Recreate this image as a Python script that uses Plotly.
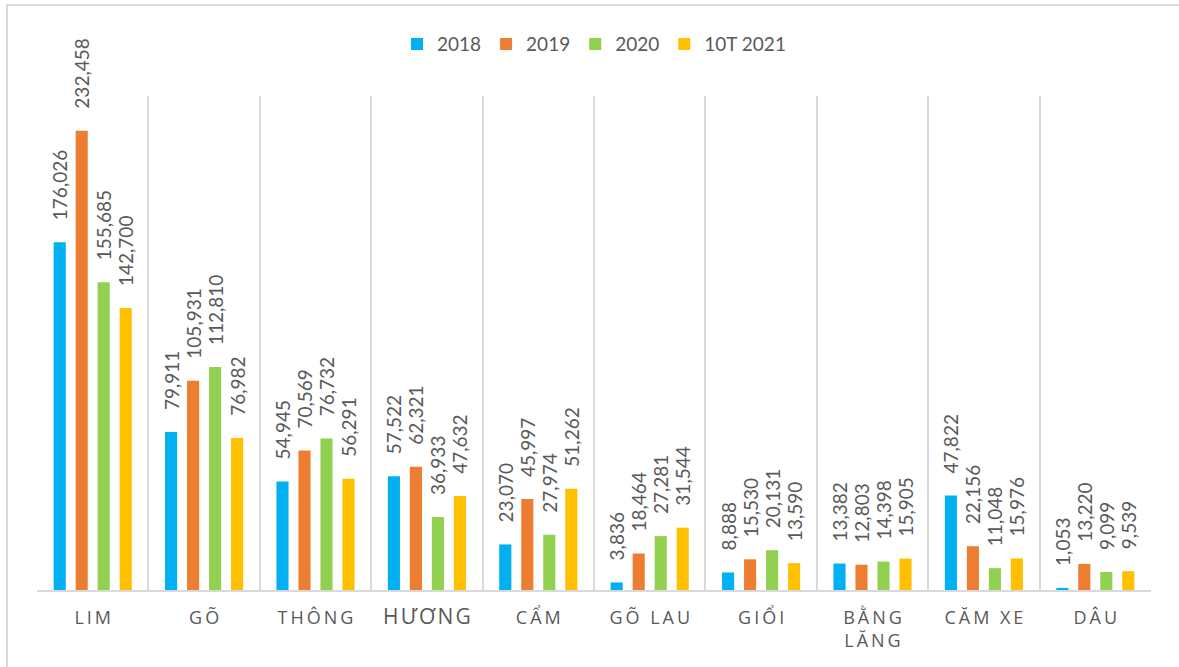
import plotly.graph_objects as go

# loài gỗ và số liệu theo năm (m3)
categories = ['LIM', 'GÕ', 'THÔNG', 'HƯƠNG', 'CẨM', 'GÕ LAU', 'GIỔI', 'BẰNG LĂNG', 'CĂM XE', 'DÂU']
series_names = ['2018', '2019', '2020', '10T 2021']

v2018 = [176026, 79911, 54945, 57522, 23070, 3836, 8888, 13382, 47822, 1053]
v2019 = [232458, 105931, 70569, 62321, 45997, 18464, 15530, 12803, 22156, 13220]
v2020 = [155685, 112810, 76732, 36933, 27974, 27281, 20131, 14398, 11048, 9099]
v2021 = [142700, 76982, 56291, 47632, 51262, 31544, 13590, 15905, 15976, 9539]

colors = ['#00B0F0', '#ED7D31', '#92D050', '#FFC000']


def spaced(name):
    # giãn chữ kiểu Excel
    words = name.split(' ')
    out = []
    for w in words:
        if w == 'BẰNG':
            out.append('\u2009'.join(w) + '<br>')
        else:
            out.append('\u2009'.join(w))
    return ('\u2009 \u2009'.join(out)).replace('<br>\u2009 \u2009', '<br>')


tick_text = []
for c in categories:
    if c == 'HƯƠNG':
        tick_text.append('<span style="font-size:21px">' + '\u200a'.join(c) + '</span>')
    else:
        tick_text.append(spaced(c))

fig = go.Figure()
for name, vals, col in zip(series_names, [v2018, v2019, v2020, v2021], colors):
    fig.add_trace(go.Bar(
        x=categories, y=vals, name=name, marker_color=col, marker_line_width=0,
        texttemplate='\u2002\u2002%{y:,}', textposition='outside', textangle=-90,
        textfont=dict(size=19, color='#595959', family='Lato, Open Sans, sans-serif'),
        constraintext='none', cliponaxis=False,
    ))

fig.update_layout(
    width=1179, height=667,
    margin=dict(l=37, r=28, t=96, b=77),
    paper_bgcolor='white', plot_bgcolor='white',
    barmode='group', bargap=0.21, bargroupgap=0.45,
    font=dict(family='Open Sans, sans-serif', color='#595959'),
    legend=dict(orientation='h', x=0.5, xanchor='center', y=1.105, yanchor='middle',
                font=dict(size=19, family='Lato, Open Sans, sans-serif', color='#595959'),
                itemwidth=30, traceorder='normal'),
    # khung viền biểu đồ
    shapes=[dict(type='rect', xref='paper', yref='paper',
                 x0=-30 / 1114, x1=1 + 40 / 1114, y0=-90 / 494, y1=1 + 91 / 494,
                 line=dict(color='#D9D9D9', width=2), layer='below')],
)
fig.update_xaxes(
    tickmode='array', tickvals=categories, ticktext=tick_text,
    tickson='boundaries', showgrid=True, gridcolor='#D9D9D9', gridwidth=1.5,
    showline=True, linecolor='#D9D9D9', linewidth=2, mirror=False,
    ticks='', ticklabelstandoff=10,
    tickfont=dict(size=18, color='#595959', family='Open Sans, sans-serif'),
)
fig.update_yaxes(range=[0, 250000], visible=False, showgrid=False)

fig.write_html('out.html', config={'displayModeBar': False},
               post_script="document.body.style.margin='0px';")
